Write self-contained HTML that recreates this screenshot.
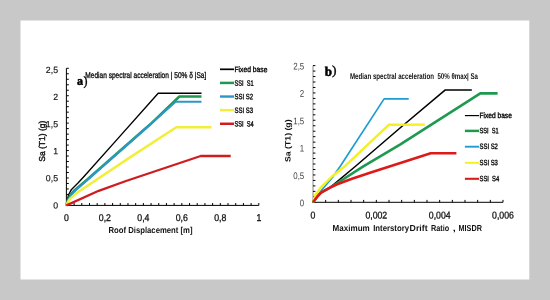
<!DOCTYPE html>
<html><head><meta charset="utf-8"><style>
html,body{margin:0;padding:0;background:#c8c8c8;}
svg{display:block;will-change:transform;}
text{font-family:"Liberation Sans",sans-serif;}
.lab{font-size:9px;fill:#111;stroke:#111;stroke-width:0.15px;}
.lab2{font-size:9.5px;fill:#444;}
.ttl{font-size:8.7px;font-weight:bold;fill:#111;}
.ttln{font-size:8.6px;fill:#111;stroke:#111;stroke-width:0.4px;}
.ttlr{font-size:7.8px;font-weight:bold;fill:#111;}
.sm{font-size:8.4px;fill:#111;stroke:#111;stroke-width:0.35px;}
.sm2{font-size:8.4px;font-weight:bold;fill:#111;white-space:pre;}
.leg{font-size:7.8px;fill:#000;stroke:#000;stroke-width:0.35px;white-space:pre;}
.par{font-family:"Liberation Serif",serif;font-size:13px;fill:#000;stroke:#000;stroke-width:0.35px;}
.ab{font-family:"Liberation Serif",serif;font-size:12px;font-weight:bold;fill:#000;stroke:#000;stroke-width:0.55px;}
</style></head><body>
<svg width="550" height="300" viewBox="0 0 550 300">
<rect x="0" y="0" width="550" height="300" fill="#c8c8c8"/>
<rect x="20.5" y="20.5" width="508.8" height="259" fill="#ffffff"/>
<line x1="66.4" y1="68.3" x2="66.4" y2="205.9" stroke="#000" stroke-width="1.0"/>
<line x1="65.9" y1="205.4" x2="258.8" y2="205.4" stroke="#000" stroke-width="1.0"/>
<line x1="66.4" y1="205.40" x2="68.80" y2="205.40" stroke="#000" stroke-width="1.0"/>
<line x1="66.4" y1="199.92" x2="68.80" y2="199.92" stroke="#000" stroke-width="1.0"/>
<line x1="66.4" y1="194.43" x2="68.80" y2="194.43" stroke="#000" stroke-width="1.0"/>
<line x1="66.4" y1="188.95" x2="68.80" y2="188.95" stroke="#000" stroke-width="1.0"/>
<line x1="66.4" y1="183.46" x2="68.80" y2="183.46" stroke="#000" stroke-width="1.0"/>
<line x1="66.4" y1="177.98" x2="68.80" y2="177.98" stroke="#000" stroke-width="1.0"/>
<line x1="66.4" y1="172.50" x2="68.80" y2="172.50" stroke="#000" stroke-width="1.0"/>
<line x1="66.4" y1="167.01" x2="68.80" y2="167.01" stroke="#000" stroke-width="1.0"/>
<line x1="66.4" y1="161.53" x2="68.80" y2="161.53" stroke="#000" stroke-width="1.0"/>
<line x1="66.4" y1="156.04" x2="68.80" y2="156.04" stroke="#000" stroke-width="1.0"/>
<line x1="66.4" y1="150.56" x2="68.80" y2="150.56" stroke="#000" stroke-width="1.0"/>
<line x1="66.4" y1="145.08" x2="68.80" y2="145.08" stroke="#000" stroke-width="1.0"/>
<line x1="66.4" y1="139.59" x2="68.80" y2="139.59" stroke="#000" stroke-width="1.0"/>
<line x1="66.4" y1="134.11" x2="68.80" y2="134.11" stroke="#000" stroke-width="1.0"/>
<line x1="66.4" y1="128.62" x2="68.80" y2="128.62" stroke="#000" stroke-width="1.0"/>
<line x1="66.4" y1="123.14" x2="68.80" y2="123.14" stroke="#000" stroke-width="1.0"/>
<line x1="66.4" y1="117.66" x2="68.80" y2="117.66" stroke="#000" stroke-width="1.0"/>
<line x1="66.4" y1="112.17" x2="68.80" y2="112.17" stroke="#000" stroke-width="1.0"/>
<line x1="66.4" y1="106.69" x2="68.80" y2="106.69" stroke="#000" stroke-width="1.0"/>
<line x1="66.4" y1="101.20" x2="68.80" y2="101.20" stroke="#000" stroke-width="1.0"/>
<line x1="66.4" y1="95.72" x2="68.80" y2="95.72" stroke="#000" stroke-width="1.0"/>
<line x1="66.4" y1="90.24" x2="68.80" y2="90.24" stroke="#000" stroke-width="1.0"/>
<line x1="66.4" y1="84.75" x2="68.80" y2="84.75" stroke="#000" stroke-width="1.0"/>
<line x1="66.4" y1="79.27" x2="68.80" y2="79.27" stroke="#000" stroke-width="1.0"/>
<line x1="66.4" y1="73.78" x2="68.80" y2="73.78" stroke="#000" stroke-width="1.0"/>
<line x1="66.4" y1="68.30" x2="68.80" y2="68.30" stroke="#000" stroke-width="1.0"/>
<line x1="66.40" y1="205.4" x2="66.40" y2="203.0" stroke="#000" stroke-width="1.0"/>
<line x1="74.10" y1="205.4" x2="74.10" y2="203.0" stroke="#000" stroke-width="1.0"/>
<line x1="81.79" y1="205.4" x2="81.79" y2="203.0" stroke="#000" stroke-width="1.0"/>
<line x1="89.49" y1="205.4" x2="89.49" y2="203.0" stroke="#000" stroke-width="1.0"/>
<line x1="97.18" y1="205.4" x2="97.18" y2="203.0" stroke="#000" stroke-width="1.0"/>
<line x1="104.88" y1="205.4" x2="104.88" y2="203.0" stroke="#000" stroke-width="1.0"/>
<line x1="112.58" y1="205.4" x2="112.58" y2="203.0" stroke="#000" stroke-width="1.0"/>
<line x1="120.27" y1="205.4" x2="120.27" y2="203.0" stroke="#000" stroke-width="1.0"/>
<line x1="127.97" y1="205.4" x2="127.97" y2="203.0" stroke="#000" stroke-width="1.0"/>
<line x1="135.66" y1="205.4" x2="135.66" y2="203.0" stroke="#000" stroke-width="1.0"/>
<line x1="143.36" y1="205.4" x2="143.36" y2="203.0" stroke="#000" stroke-width="1.0"/>
<line x1="151.06" y1="205.4" x2="151.06" y2="203.0" stroke="#000" stroke-width="1.0"/>
<line x1="158.75" y1="205.4" x2="158.75" y2="203.0" stroke="#000" stroke-width="1.0"/>
<line x1="166.45" y1="205.4" x2="166.45" y2="203.0" stroke="#000" stroke-width="1.0"/>
<line x1="174.14" y1="205.4" x2="174.14" y2="203.0" stroke="#000" stroke-width="1.0"/>
<line x1="181.84" y1="205.4" x2="181.84" y2="203.0" stroke="#000" stroke-width="1.0"/>
<line x1="189.54" y1="205.4" x2="189.54" y2="203.0" stroke="#000" stroke-width="1.0"/>
<line x1="197.23" y1="205.4" x2="197.23" y2="203.0" stroke="#000" stroke-width="1.0"/>
<line x1="204.93" y1="205.4" x2="204.93" y2="203.0" stroke="#000" stroke-width="1.0"/>
<line x1="212.62" y1="205.4" x2="212.62" y2="203.0" stroke="#000" stroke-width="1.0"/>
<line x1="220.32" y1="205.4" x2="220.32" y2="203.0" stroke="#000" stroke-width="1.0"/>
<line x1="228.02" y1="205.4" x2="228.02" y2="203.0" stroke="#000" stroke-width="1.0"/>
<line x1="235.71" y1="205.4" x2="235.71" y2="203.0" stroke="#000" stroke-width="1.0"/>
<line x1="243.41" y1="205.4" x2="243.41" y2="203.0" stroke="#000" stroke-width="1.0"/>
<line x1="251.10" y1="205.4" x2="251.10" y2="203.0" stroke="#000" stroke-width="1.0"/>
<line x1="258.80" y1="205.4" x2="258.80" y2="203.0" stroke="#000" stroke-width="1.0"/>
<text transform="translate(58,208.4) rotate(0.05)" text-anchor="end" class="lab" textLength="4.85" lengthAdjust="spacingAndGlyphs">0</text>
<text transform="translate(58,181.3) rotate(0.05)" text-anchor="end" class="lab" textLength="12.13" lengthAdjust="spacingAndGlyphs">0,5</text>
<text transform="translate(58,154.2) rotate(0.05)" text-anchor="end" class="lab" textLength="4.85" lengthAdjust="spacingAndGlyphs">1</text>
<text transform="translate(58,127.2) rotate(0.05)" text-anchor="end" class="lab" textLength="12.13" lengthAdjust="spacingAndGlyphs">1,5</text>
<text transform="translate(58,100.1) rotate(0.05)" text-anchor="end" class="lab" textLength="4.85" lengthAdjust="spacingAndGlyphs">2</text>
<text transform="translate(58,73.0) rotate(0.05)" text-anchor="end" class="lab" textLength="12.13" lengthAdjust="spacingAndGlyphs">2,5</text>
<text transform="translate(66.4,221) rotate(0.05)" text-anchor="middle" class="lab" style="font-size:9.8px;stroke-width:0.3px" textLength="4.85" lengthAdjust="spacingAndGlyphs">0</text>
<text transform="translate(104.9,221) rotate(0.05)" text-anchor="middle" class="lab" style="font-size:9.8px;stroke-width:0.3px" textLength="12.13" lengthAdjust="spacingAndGlyphs">0,2</text>
<text transform="translate(143.4,221) rotate(0.05)" text-anchor="middle" class="lab" style="font-size:9.8px;stroke-width:0.3px" textLength="12.13" lengthAdjust="spacingAndGlyphs">0,4</text>
<text transform="translate(181.8,221) rotate(0.05)" text-anchor="middle" class="lab" style="font-size:9.8px;stroke-width:0.3px" textLength="12.13" lengthAdjust="spacingAndGlyphs">0,6</text>
<text transform="translate(220.3,221) rotate(0.05)" text-anchor="middle" class="lab" style="font-size:9.8px;stroke-width:0.3px" textLength="12.13" lengthAdjust="spacingAndGlyphs">0,8</text>
<text transform="translate(258.8,221) rotate(0.05)" text-anchor="middle" class="lab" style="font-size:9.8px;stroke-width:0.3px" textLength="4.85" lengthAdjust="spacingAndGlyphs">1</text>
<text transform="translate(108.5,233) rotate(0.05)" class="ttl" textLength="84" lengthAdjust="spacingAndGlyphs">Roof Displacement [m]</text>
<text transform="translate(45,141.2) rotate(-89.95)" text-anchor="middle" class="ttln" textLength="41.2" lengthAdjust="spacingAndGlyphs">Sa (T1) (g)</text>
<text transform="translate(85.3,77.9) rotate(0.05)" class="sm" textLength="121" lengthAdjust="spacingAndGlyphs">Median spectral acceleration | 50% δ |Sa]</text>
<text transform="translate(77,84.7) rotate(0.05)" class="ab">a</text>
<text transform="translate(83.5,85.3) rotate(0.05)" class="par" textLength="4" lengthAdjust="spacingAndGlyphs">)</text>
<line x1="220" y1="69.30" x2="234" y2="69.30" stroke="#000000" stroke-width="1.7"/>
<text transform="translate(234.5,72.10) rotate(0.05)" class="leg" textLength="33" lengthAdjust="spacingAndGlyphs">Fixed base</text>
<line x1="220" y1="82.92" x2="234" y2="82.92" stroke="#1d9a50" stroke-width="2.5"/>
<text transform="translate(234.5,85.72) rotate(0.05)" class="leg" textLength="19" lengthAdjust="spacingAndGlyphs">SSI  S1</text>
<line x1="220" y1="96.54" x2="234" y2="96.54" stroke="#2a97c8" stroke-width="2.4"/>
<text transform="translate(234.5,99.34) rotate(0.05)" class="leg" textLength="18.5" lengthAdjust="spacingAndGlyphs">SSI S2</text>
<line x1="220" y1="110.16" x2="234" y2="110.16" stroke="#f2ef3a" stroke-width="2.5"/>
<text transform="translate(234.5,112.96) rotate(0.05)" class="leg" textLength="18.5" lengthAdjust="spacingAndGlyphs">SSI S3</text>
<line x1="220" y1="123.78" x2="234" y2="123.78" stroke="#d01c20" stroke-width="2.5"/>
<text transform="translate(234.5,126.58) rotate(0.05)" class="leg" textLength="19.2" lengthAdjust="spacingAndGlyphs">SSI  S4</text>
<polyline points="66.4,205.4 67.1,201 68.7,194.5 71.5,189.4 78,183 84,176.5 116.7,139.9 158.2,93.3 201.5,93.3" fill="none" stroke="#000000" stroke-width="1.4" stroke-linejoin="round" stroke-linecap="butt"/>
<polyline points="66.4,205.4 67.8,200 70.8,194.5 75,190 87,179.8 130,142 150,124.6 179.4,96.5 201.5,96.5" fill="none" stroke="#1d9a50" stroke-width="2.6" stroke-linejoin="round" stroke-linecap="butt"/>
<polyline points="66.4,205.4 68.2,200.5 71.3,195 75.3,190.5 87,180.2 130,142.4 175.6,101.7 201.5,101.7" fill="none" stroke="#2a97c8" stroke-width="2.1" stroke-linejoin="round" stroke-linecap="butt"/>
<polyline points="66.4,205.4 68,202 70.1,198.6 76.3,193.2 130,157.4 176.3,127.3 211.5,127.3" fill="none" stroke="#f2ef3a" stroke-width="2.5" stroke-linejoin="round" stroke-linecap="butt"/>
<polyline points="66.4,205.4 98.7,190.8 126,181 200.7,156 230.7,156" fill="none" stroke="#d01c20" stroke-width="2.3" stroke-linejoin="round" stroke-linecap="butt"/>
<line x1="313.0" y1="65.6" x2="313.0" y2="202.8" stroke="#8a8a8a" stroke-width="1.0"/>
<line x1="312.5" y1="202.3" x2="503" y2="202.3" stroke="#000" stroke-width="1.0"/>
<line x1="313.0" y1="202.30" x2="315.40" y2="202.30" stroke="#000" stroke-width="1.0"/>
<line x1="313.0" y1="196.83" x2="315.40" y2="196.83" stroke="#000" stroke-width="1.0"/>
<line x1="313.0" y1="191.36" x2="315.40" y2="191.36" stroke="#000" stroke-width="1.0"/>
<line x1="313.0" y1="185.90" x2="315.40" y2="185.90" stroke="#000" stroke-width="1.0"/>
<line x1="313.0" y1="180.43" x2="315.40" y2="180.43" stroke="#000" stroke-width="1.0"/>
<line x1="313.0" y1="174.96" x2="315.40" y2="174.96" stroke="#000" stroke-width="1.0"/>
<line x1="313.0" y1="169.49" x2="315.40" y2="169.49" stroke="#000" stroke-width="1.0"/>
<line x1="313.0" y1="164.02" x2="315.40" y2="164.02" stroke="#000" stroke-width="1.0"/>
<line x1="313.0" y1="158.56" x2="315.40" y2="158.56" stroke="#000" stroke-width="1.0"/>
<line x1="313.0" y1="153.09" x2="315.40" y2="153.09" stroke="#000" stroke-width="1.0"/>
<line x1="313.0" y1="147.62" x2="315.40" y2="147.62" stroke="#000" stroke-width="1.0"/>
<line x1="313.0" y1="142.15" x2="315.40" y2="142.15" stroke="#000" stroke-width="1.0"/>
<line x1="313.0" y1="136.68" x2="315.40" y2="136.68" stroke="#000" stroke-width="1.0"/>
<line x1="313.0" y1="131.22" x2="315.40" y2="131.22" stroke="#000" stroke-width="1.0"/>
<line x1="313.0" y1="125.75" x2="315.40" y2="125.75" stroke="#000" stroke-width="1.0"/>
<line x1="313.0" y1="120.28" x2="315.40" y2="120.28" stroke="#000" stroke-width="1.0"/>
<line x1="313.0" y1="114.81" x2="315.40" y2="114.81" stroke="#000" stroke-width="1.0"/>
<line x1="313.0" y1="109.34" x2="315.40" y2="109.34" stroke="#000" stroke-width="1.0"/>
<line x1="313.0" y1="103.88" x2="315.40" y2="103.88" stroke="#000" stroke-width="1.0"/>
<line x1="313.0" y1="98.41" x2="315.40" y2="98.41" stroke="#000" stroke-width="1.0"/>
<line x1="313.0" y1="92.94" x2="315.40" y2="92.94" stroke="#000" stroke-width="1.0"/>
<line x1="313.0" y1="87.47" x2="315.40" y2="87.47" stroke="#000" stroke-width="1.0"/>
<line x1="313.0" y1="82.00" x2="315.40" y2="82.00" stroke="#000" stroke-width="1.0"/>
<line x1="313.0" y1="76.54" x2="315.40" y2="76.54" stroke="#000" stroke-width="1.0"/>
<line x1="313.0" y1="71.07" x2="315.40" y2="71.07" stroke="#000" stroke-width="1.0"/>
<line x1="313.0" y1="65.60" x2="315.40" y2="65.60" stroke="#000" stroke-width="1.0"/>
<line x1="313.00" y1="202.3" x2="313.00" y2="199.9" stroke="#000" stroke-width="1.0"/>
<line x1="325.67" y1="202.3" x2="325.67" y2="199.9" stroke="#000" stroke-width="1.0"/>
<line x1="338.33" y1="202.3" x2="338.33" y2="199.9" stroke="#000" stroke-width="1.0"/>
<line x1="351.00" y1="202.3" x2="351.00" y2="199.9" stroke="#000" stroke-width="1.0"/>
<line x1="363.67" y1="202.3" x2="363.67" y2="199.9" stroke="#000" stroke-width="1.0"/>
<line x1="376.33" y1="202.3" x2="376.33" y2="199.9" stroke="#000" stroke-width="1.0"/>
<line x1="389.00" y1="202.3" x2="389.00" y2="199.9" stroke="#000" stroke-width="1.0"/>
<line x1="401.67" y1="202.3" x2="401.67" y2="199.9" stroke="#000" stroke-width="1.0"/>
<line x1="414.33" y1="202.3" x2="414.33" y2="199.9" stroke="#000" stroke-width="1.0"/>
<line x1="427.00" y1="202.3" x2="427.00" y2="199.9" stroke="#000" stroke-width="1.0"/>
<line x1="439.67" y1="202.3" x2="439.67" y2="199.9" stroke="#000" stroke-width="1.0"/>
<line x1="452.33" y1="202.3" x2="452.33" y2="199.9" stroke="#000" stroke-width="1.0"/>
<line x1="465.00" y1="202.3" x2="465.00" y2="199.9" stroke="#000" stroke-width="1.0"/>
<line x1="477.67" y1="202.3" x2="477.67" y2="199.9" stroke="#000" stroke-width="1.0"/>
<line x1="490.33" y1="202.3" x2="490.33" y2="199.9" stroke="#000" stroke-width="1.0"/>
<line x1="503.00" y1="202.3" x2="503.00" y2="199.9" stroke="#000" stroke-width="1.0"/>
<text transform="translate(304.2,206.2) rotate(0.05)" text-anchor="end" class="lab2" textLength="4.38" lengthAdjust="spacingAndGlyphs">0</text>
<text transform="translate(304.2,178.9) rotate(0.05)" text-anchor="end" class="lab2" textLength="10.96" lengthAdjust="spacingAndGlyphs">0,5</text>
<text transform="translate(304.2,151.5) rotate(0.05)" text-anchor="end" class="lab2" textLength="4.38" lengthAdjust="spacingAndGlyphs">1</text>
<text transform="translate(304.2,124.2) rotate(0.05)" text-anchor="end" class="lab2" textLength="10.96" lengthAdjust="spacingAndGlyphs">1,5</text>
<text transform="translate(304.2,96.8) rotate(0.05)" text-anchor="end" class="lab2" textLength="4.38" lengthAdjust="spacingAndGlyphs">2</text>
<text transform="translate(304.2,69.5) rotate(0.05)" text-anchor="end" class="lab2" textLength="10.96" lengthAdjust="spacingAndGlyphs">2,5</text>
<text transform="translate(313.0,218.5) rotate(0.05)" text-anchor="middle" class="lab" style="font-size:9.8px;stroke-width:0.3px" textLength="4.85" lengthAdjust="spacingAndGlyphs">0</text>
<text transform="translate(376.3,218.5) rotate(0.05)" text-anchor="middle" class="lab" style="font-size:9.8px;stroke-width:0.3px" textLength="21.84" lengthAdjust="spacingAndGlyphs">0,002</text>
<text transform="translate(439.7,218.5) rotate(0.05)" text-anchor="middle" class="lab" style="font-size:9.8px;stroke-width:0.3px" textLength="21.84" lengthAdjust="spacingAndGlyphs">0,004</text>
<text transform="translate(503.0,218.5) rotate(0.05)" text-anchor="middle" class="lab" style="font-size:9.8px;stroke-width:0.3px" textLength="21.84" lengthAdjust="spacingAndGlyphs">0,006</text>
<text transform="translate(332.6,231) rotate(0.05)" class="ttl" textLength="37.2" lengthAdjust="spacingAndGlyphs">Maximum</text>
<text transform="translate(373.2,231) rotate(0.05)" class="ttl" textLength="35.8" lengthAdjust="spacingAndGlyphs">Interstory</text>
<text transform="translate(409.6,231) rotate(0.05)" class="ttl" textLength="18.0" lengthAdjust="spacingAndGlyphs">Drift</text>
<text transform="translate(430.9,231) rotate(0.05)" class="ttl" textLength="18.2" lengthAdjust="spacingAndGlyphs">Ratio</text>
<text transform="translate(452.8,231) rotate(0.05)" class="ttl" textLength="3" lengthAdjust="spacingAndGlyphs">,</text>
<text transform="translate(458.5,231) rotate(0.05)" class="ttl" textLength="23.4" lengthAdjust="spacingAndGlyphs">MISDR</text>
<text transform="translate(290.5,140.7) rotate(-89.95)" text-anchor="middle" class="ttlr" textLength="42.5" lengthAdjust="spacingAndGlyphs">Sa (T1) (g)</text>
<text transform="translate(350,79) rotate(0.05)" class="sm2" textLength="128" lengthAdjust="spacingAndGlyphs">Median spectral acceleration  50% θmax| Sa</text>
<text transform="translate(324.8,75.7) rotate(0.05)" class="ab" style="font-size:13px">b</text>
<text transform="translate(332.1,74.5) rotate(0.05)" class="par" textLength="4.5" lengthAdjust="spacingAndGlyphs">)</text>
<line x1="464.9" y1="115.60" x2="479.1" y2="115.60" stroke="#000000" stroke-width="1.2"/>
<text transform="translate(479.5,118.00) rotate(0.05)" class="leg" textLength="32.3" lengthAdjust="spacingAndGlyphs">Fixed base</text>
<line x1="464.9" y1="130.90" x2="479.1" y2="130.90" stroke="#1d9a50" stroke-width="2.5"/>
<text transform="translate(479.5,133.30) rotate(0.05)" class="leg" textLength="19.2" lengthAdjust="spacingAndGlyphs">SSI  S1</text>
<line x1="464.9" y1="146.70" x2="479.1" y2="146.70" stroke="#1f9dd2" stroke-width="1.9"/>
<text transform="translate(479.5,149.10) rotate(0.05)" class="leg" textLength="18.4" lengthAdjust="spacingAndGlyphs">SSI S2</text>
<line x1="464.9" y1="162.80" x2="479.1" y2="162.80" stroke="#f5f020" stroke-width="1.9"/>
<text transform="translate(479.5,165.20) rotate(0.05)" class="leg" textLength="18.4" lengthAdjust="spacingAndGlyphs">SSI S3</text>
<line x1="464.9" y1="178.80" x2="479.1" y2="178.80" stroke="#dc1a1c" stroke-width="2.1"/>
<text transform="translate(479.5,181.20) rotate(0.05)" class="leg" textLength="19.7" lengthAdjust="spacingAndGlyphs">SSI  S4</text>
<polyline points="313,202.3 317,197 321,192.6 330,187.4 333.5,184.6 355.2,166.5 400,128 445.3,89.9 471.8,89.9" fill="none" stroke="#000000" stroke-width="1.55" stroke-linejoin="round" stroke-linecap="butt"/>
<polyline points="313,202.3 317,197 321,192.6 330,187.6 333.5,185.5 363.3,166.3 400,144.6 480.3,93.4 497.6,93.4" fill="none" stroke="#1d9a50" stroke-width="2.6" stroke-linejoin="round" stroke-linecap="butt"/>
<polyline points="313,202.3 316.5,196.5 323,188.5 332.6,177.3 340.75,165.5 384.1,98.9 408.7,98.9" fill="none" stroke="#1f9dd2" stroke-width="1.7" stroke-linejoin="round" stroke-linecap="butt"/>
<polyline points="313,202.3 315.3,195 321,187.3 332,176.5 346,165.2 389,124.7 424.8,124.6" fill="none" stroke="#f5f020" stroke-width="2.4" stroke-linejoin="round" stroke-linecap="butt"/>
<polyline points="313,202.3 317,197 321,192.6 330,187.6 337.2,184.3 352,178.8 370,172.7 430.7,153.3 456.4,153.3" fill="none" stroke="#dc1a1c" stroke-width="2.6" stroke-linejoin="round" stroke-linecap="butt"/>
</svg>
</body></html>
